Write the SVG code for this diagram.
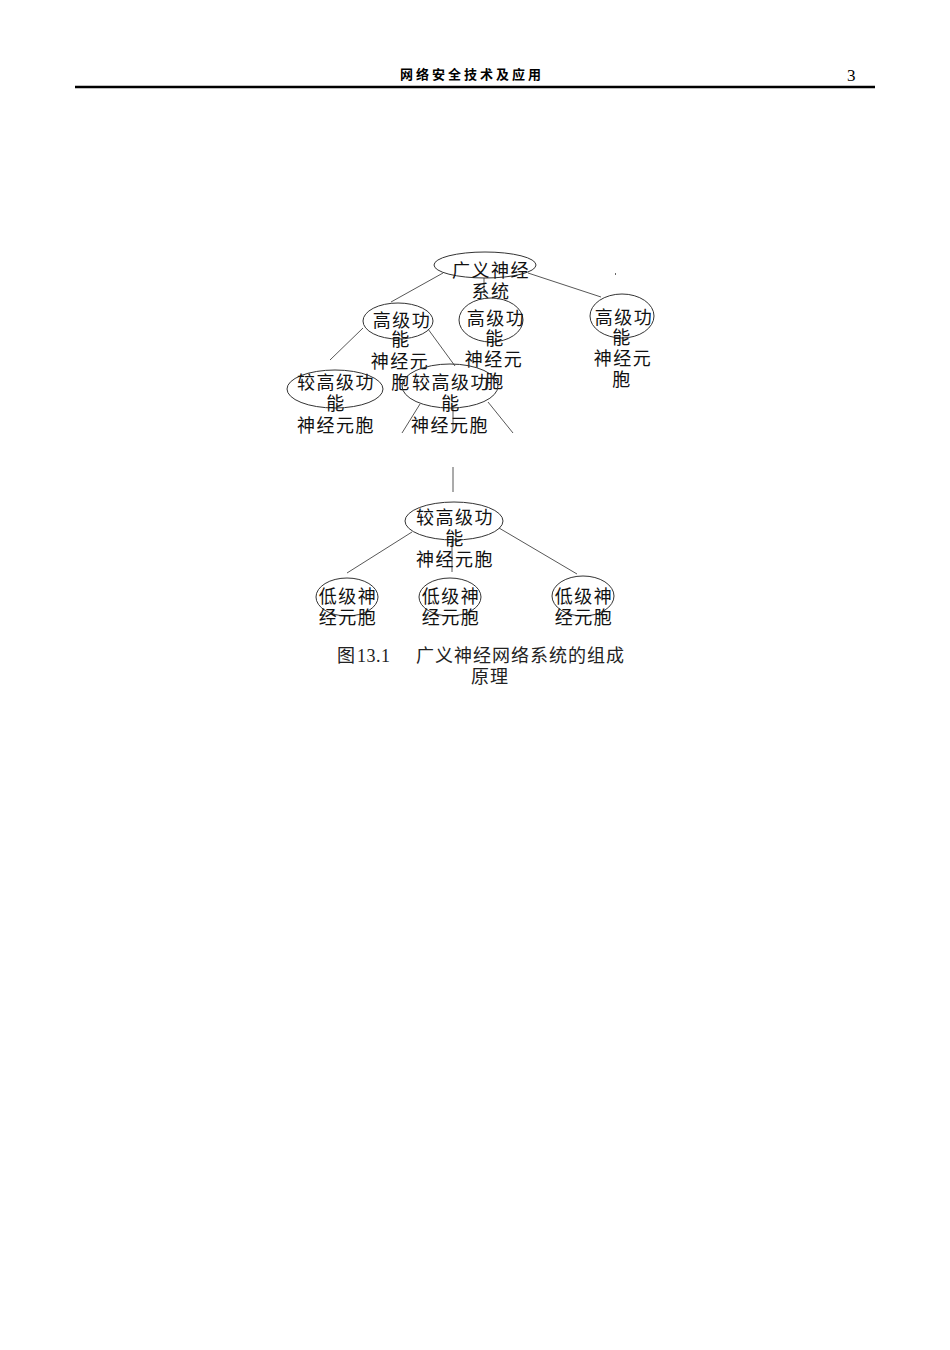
<svg xmlns="http://www.w3.org/2000/svg" width="950" height="1350" viewBox="0 0 950 1350">
<style>
.n{fill:none;stroke:#333;stroke-width:1}
.c{stroke:#444;stroke-width:0.9;fill:none}
.t{font-family:"Noto Sans CJK SC","Liberation Serif",sans-serif;font-size:18px;letter-spacing:1.5px;fill:#111;text-anchor:middle}
.cap{font-family:"Noto Sans CJK SC","Liberation Serif",sans-serif;font-size:18px;letter-spacing:1px;fill:#222}
</style>
<rect width="950" height="1350" fill="#fff"/>
<g id="header">
<text x="400" y="79" style="font-family:'Noto Sans CJK SC',sans-serif;font-size:13px;font-weight:bold;letter-spacing:3px" fill="#000">网络安全技术及应用</text>
<text x="847" y="81" style="font-family:'Liberation Serif',serif;font-size:17px" fill="#000">3</text>
<line x1="75" y1="87" x2="875" y2="87" stroke="#000" stroke-width="2.5"/>
</g>
<g id="connectors">
<line class="c" x1="443" y1="273" x2="391" y2="302"/>
<line class="c" x1="528" y1="273" x2="601" y2="297"/>
<line class="c" x1="484" y1="278" x2="484" y2="293"/>
<line class="c" x1="363" y1="328" x2="330" y2="360"/>
<line class="c" x1="428" y1="329" x2="455" y2="366"/>
<line class="c" x1="420" y1="404" x2="402" y2="433"/>
<line class="c" x1="488" y1="402" x2="513" y2="433"/>
<line class="c" x1="453" y1="407" x2="453" y2="431"/>
<line class="c" x1="453" y1="467" x2="453" y2="492"/>
<line class="c" x1="452" y1="541" x2="452" y2="572"/>
<line class="c" x1="412" y1="532" x2="347" y2="573"/>
<line class="c" x1="499" y1="528" x2="577" y2="574"/>
<rect x="615" y="273" width="1" height="2" fill="#666"/>
</g>
<g id="node-root">
<ellipse class="n" cx="485" cy="265" rx="51" ry="13"/>
<text class="t" x="491" y="277">广义神经</text>
<text class="t" x="491" y="298">系统</text>
</g>
<g id="node-high-left">
<ellipse class="n" cx="398" cy="321" rx="35" ry="18"/>
<text class="t" x="402" y="327">高级功</text>
<text class="t" x="401" y="346">能</text>
<text class="t" x="400" y="368">神经元</text>
<text class="t" x="401" y="389">胞</text>
</g>
<g id="node-high-mid">
<ellipse class="n" cx="491" cy="320" rx="32" ry="22"/>
<text class="t" x="496" y="325">高级功</text>
<text class="t" x="495" y="345">能</text>
<text class="t" x="494" y="366">神经元</text>
<text class="t" x="495" y="388">胞</text>
</g>
<g id="node-high-right">
<ellipse class="n" cx="622" cy="316" rx="32" ry="22"/>
<text class="t" x="624" y="324">高级功</text>
<text class="t" x="622" y="344">能</text>
<text class="t" x="623" y="365">神经元</text>
<text class="t" x="622" y="386">胞</text>
</g>
<g id="node-mid-left">
<ellipse class="n" cx="335" cy="389" rx="48" ry="19"/>
<text class="t" x="336" y="389">较高级功</text>
<text class="t" x="336" y="410">能</text>
<text class="t" x="336" y="432">神经元胞</text>
</g>
<g id="node-mid-center">
<ellipse class="n" cx="450" cy="386" rx="48" ry="22"/>
<text class="t" x="451" y="389">较高级功</text>
<text class="t" x="451" y="410">能</text>
<text class="t" x="450" y="432">神经元胞</text>
</g>
<g id="node-sub">
<ellipse class="n" cx="454" cy="521" rx="49" ry="19"/>
<text class="t" x="455" y="524">较高级功</text>
<text class="t" x="455" y="545">能</text>
<text class="t" x="455" y="566">神经元胞</text>
</g>
<g id="node-low-left">
<ellipse class="n" cx="347" cy="597" rx="31" ry="19"/>
<text class="t" x="348" y="603">低级神</text>
<text class="t" x="348" y="624">经元胞</text>
</g>
<g id="node-low-mid">
<ellipse class="n" cx="450" cy="597" rx="31" ry="19"/>
<text class="t" x="451" y="603">低级神</text>
<text class="t" x="451" y="624">经元胞</text>
</g>
<g id="node-low-right">
<ellipse class="n" cx="583" cy="596" rx="31" ry="20"/>
<text class="t" x="584" y="603">低级神</text>
<text class="t" x="584" y="624">经元胞</text>
</g>
<g id="caption">
<text class="cap" y="662"><tspan x="337">图 </tspan><tspan x="357" style="font-family:'Liberation Serif',serif;font-size:18px;letter-spacing:0.5px">13.1</tspan><tspan x="416">广义神经网络系统的组成</tspan></text>
<text class="cap" x="490" y="683" text-anchor="middle">原理</text>
</g>
</svg>
